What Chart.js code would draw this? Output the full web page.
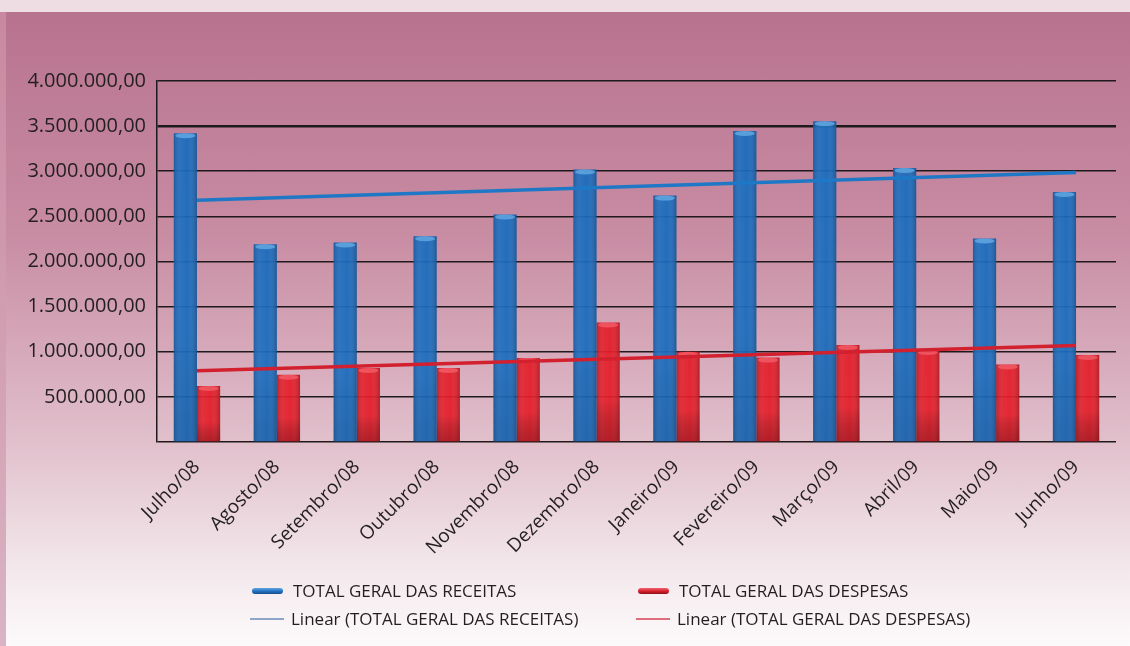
<!DOCTYPE html>
<html lang="pt-BR">
<head>
<meta charset="utf-8">
<title>Receitas x Despesas</title>
<script src="https://cdn.jsdelivr.net/npm/chart.js@4.4.1/dist/chart.umd.min.js"></script>
<style>
  html, body { margin: 0; padding: 0; }
  body {
    width: 1130px; height: 646px; position: relative; overflow: hidden;
    background: #eedde3; font-family: "Open Sans", "Liberation Sans", sans-serif;
  }
  #strip {
    position: absolute; left: 0; top: 12px; width: 6px; bottom: 0;
    background: linear-gradient(#c8899f, #dab4c4);
  }
  #panel {
    position: absolute; left: 6px; top: 12px; right: 0; bottom: 0;
    background: linear-gradient(to bottom,
      #b8738e 0%, #c88ca3 35%, #e1c0cc 68%, #f3e8ec 88%, #fdfafb 100%);
  }
  #chart { position: absolute; left: 0; top: 0; }
  #legend {
    position: absolute; left: 252px; top: 577px;
    display: grid; grid-template-columns: 386px 400px;
    font-size: 17px; line-height: 28px; color: #231f20;
  }
  .item { display: flex; align-items: center; white-space: nowrap; }
  .sym { display: inline-block; width: 31px; margin-right: 10px; }
  .sym.bar { height: 6px; border-radius: 3px; }
  .sym.line { height: 2px; margin-left: -2px; margin-right: 7px; width: 34px; }
</style>
</head>
<body>
<div id="strip"></div>
<div id="panel"></div>
<canvas id="chart" width="1130" height="646"></canvas>
<div id="legend"></div>
<script>
// Meses do período (julho/2008 a junho/2009)
const meses = ['Julho/08', 'Agosto/08', 'Setembro/08', 'Outubro/08', 'Novembro/08', 'Dezembro/08',
               'Janeiro/09', 'Fevereiro/09', 'Março/09', 'Abril/09', 'Maio/09', 'Junho/09'];

// Totais mensais (R$)
const receitas = [3420000, 2190000, 2210000, 2280000, 2520000, 3020000,
                  2730000, 3445000, 3555000, 3035000, 2255000, 2770000];
const despesas = [620000, 745000, 820000, 820000, 930000, 1325000,
                  1000000, 935000, 1075000, 1020000, 860000, 965000];

// Linhas de tendência linear: valor no primeiro e no último mês
const tendenciaReceitas = [2680000, 2985000];
const tendenciaDespesas = [790000, 1070000];

// Marcas do eixo Y
const eixoY = { min: 0, max: 4000000, passo: 500000 };

function moeda(v) {
  const inteiro = Math.round(v).toString().replace(/\B(?=(\d{3})+(?!\d))/g, '.');
  return inteiro + ',00';
}

function extremos(par) {
  return meses.map((_, i) => i === 0 ? par[0] : (i === meses.length - 1 ? par[1] : null));
}

const estilo = {
  azul: 'rgba(24,106,188,0.93)',
  vermelho: 'rgba(226,28,40,0.93)',
  tampaAzul: 'rgba(105,175,230,0.75)',
  tampaVermelha: 'rgba(244,100,110,0.7)',
  linhaAzul: '#1f78c6',
  linhaVermelha: '#d2202e'
};

// Sombreado cilíndrico das colunas, desenhado sobre cada barra
const sombreado = {
  id: 'sombreado',
  afterDatasetDraw(chart, args) {
    const meta = args.meta;
    if (meta.type !== 'bar') return;
    const ctx = chart.ctx;
    const tampa = meta.index === 0 ? estilo.tampaAzul : estilo.tampaVermelha;
    const escurece = meta.index === 0 ? 'rgba(10,30,70,0.12)' : 'rgba(70,0,5,0.3)';
    ctx.save();
    meta.data.forEach(el => {
      const p = el.getProps(['x', 'y', 'base', 'width'], true);
      const l = p.x - p.width / 2, h = p.base - p.y;
      const gh = ctx.createLinearGradient(l, 0, l + p.width, 0);
      gh.addColorStop(0, 'rgba(0,0,0,0.16)');
      gh.addColorStop(0.3, 'rgba(255,255,255,0.04)');
      gh.addColorStop(0.6, 'rgba(255,255,255,0.0)');
      gh.addColorStop(1, 'rgba(0,0,0,0.2)');
      ctx.fillStyle = gh;
      ctx.fillRect(l, p.y, p.width, h);
      const gv = ctx.createLinearGradient(0, p.y, 0, p.base);
      gv.addColorStop(0, 'rgba(0,0,0,0)');
      gv.addColorStop(0.65, 'rgba(0,0,0,0)');
      gv.addColorStop(1, escurece);
      ctx.fillStyle = gv;
      ctx.fillRect(l, p.y, p.width, h);
      ctx.fillStyle = tampa;
      ctx.beginPath();
      ctx.ellipse(p.x, p.y + 2.5, p.width / 2 - 1.5, 2.5, 0, 0, Math.PI * 2);
      ctx.fill();
    });
    ctx.restore();
  }
};

const fonte = '"Open Sans", "Liberation Sans", sans-serif';

const grafico = new Chart(document.getElementById('chart'), {
  data: {
    labels: meses,
    datasets: [
      { type: 'bar', label: 'TOTAL GERAL DAS RECEITAS', data: receitas,
        backgroundColor: estilo.azul, order: 2,
        categoryPercentage: 0.58, barPercentage: 1.0 },
      { type: 'bar', label: 'TOTAL GERAL DAS DESPESAS', data: despesas,
        backgroundColor: estilo.vermelho, order: 2,
        categoryPercentage: 0.58, barPercentage: 1.0 },
      { type: 'line', label: 'Linear (TOTAL GERAL DAS RECEITAS)', data: extremos(tendenciaReceitas),
        borderColor: estilo.linhaAzul, borderWidth: 3.5, pointRadius: 0, spanGaps: true, order: 1,
        legendSym: '#8ea7c9' },
      { type: 'line', label: 'Linear (TOTAL GERAL DAS DESPESAS)', data: extremos(tendenciaDespesas),
        borderColor: estilo.linhaVermelha, borderWidth: 3.5, pointRadius: 0, spanGaps: true, order: 1,
        legendSym: '#df6e7c' }
    ]
  },
  options: {
    responsive: false,
    animation: false,
    layout: { padding: { top: 81, right: 14, bottom: 84, left: 0 } },
    plugins: { legend: { display: false }, tooltip: { enabled: false } },
    scales: {
      x: {
        grid: { display: false },
        border: { display: false },
        ticks: {
          color: '#231f20', font: { family: fonte, size: 19 },
          minRotation: 45, maxRotation: 45, padding: 6, autoSkip: false
        },
        afterFit(s) { s.height = 120; }
      },
      y: {
        min: eixoY.min, max: eixoY.max,
        grid: {
          color: '#1e1a1c',
          lineWidth: c => (c.tick && c.tick.value === 3500000) ? 2.6 : 1.6,
          drawTicks: false
        },
        border: { display: true, color: '#1e1a1c', width: 1.5 },
        ticks: {
          stepSize: eixoY.passo, padding: 11,
          color: '#231f20', font: { family: fonte, size: 20 },
          callback: v => v === 0 ? '' : moeda(v)
        },
        afterFit(s) { s.width = 157; }
      }
    }
  },
  plugins: [sombreado]
});

// Legenda em duas colunas, montada a partir das séries
const cores = [
  'linear-gradient(#63a8e0, #1f6fbf 55%, #174f8c)',
  'linear-gradient(#f36470, #d41f2b 55%, #8a1018)'
];
const legenda = document.getElementById('legend');
[0, 1, 2, 3].forEach(i => {
  const ds = grafico.data.datasets[i];
  const item = document.createElement('div');
  item.className = 'item';
  const sym = document.createElement('span');
  if (ds.type === 'bar') {
    sym.className = 'sym bar';
    sym.style.background = cores[i];
  } else {
    sym.className = 'sym line';
    sym.style.background = ds.legendSym;
  }
  const txt = document.createElement('span');
  txt.textContent = ds.label;
  item.appendChild(sym);
  item.appendChild(txt);
  legenda.appendChild(item);
});
</script>
</body>
</html>
